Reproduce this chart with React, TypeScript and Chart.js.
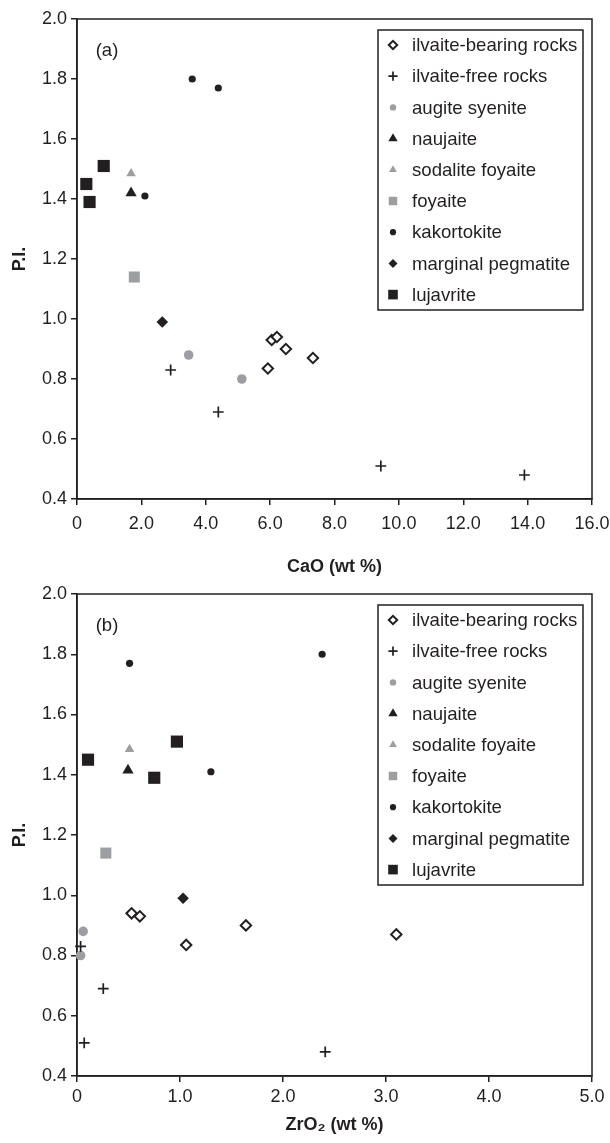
import React, { useEffect, useRef } from 'react';
import { Chart, registerables } from 'chart.js';
import { drawPoint } from 'chart.js/helpers';

Chart.register(...registerables);

type Pt = [number, number];

const SERIES_NAMES = [
  'ilvaite-bearing rocks',
  'ilvaite-free rocks',
  'augite syenite',
  'naujaite',
  'sodalite foyaite',
  'foyaite',
  'kakortokite',
  'marginal pegmatite',
  'lujavrite',
];

// Panel (a): CaO (wt %) vs P.I.
const caoIlvaiteBearing: Pt[] = [[6.05, 0.93], [6.21, 0.94], [6.49, 0.9], [5.93, 0.835], [7.33, 0.87]];
const caoIlvaiteFree: Pt[] = [[2.91, 0.83], [4.39, 0.69], [9.44, 0.51], [13.9, 0.48]];
const caoAugiteSyenite: Pt[] = [[3.47, 0.88], [5.12, 0.8]];
const caoNaujaite: Pt[] = [[1.68, 1.42]];
const caoSodaliteFoyaite: Pt[] = [[1.68, 1.485]];
const caoFoyaite: Pt[] = [[1.78, 1.14]];
const caoKakortokite: Pt[] = [[3.58, 1.8], [4.39, 1.77], [2.11, 1.41]];
const caoMarginalPegmatite: Pt[] = [[2.65, 0.99]];
const caoLujavrite: Pt[] = [[0.29, 1.45], [0.39, 1.39], [0.83, 1.51]];

// Panel (b): ZrO2 (wt %) vs P.I.
const zrIlvaiteBearing: Pt[] = [[0.53, 0.94], [0.61, 0.93], [1.06, 0.835], [1.64, 0.9], [3.1, 0.87]];
const zrIlvaiteFree: Pt[] = [[0.035, 0.83], [0.255, 0.69], [0.07, 0.51], [2.41, 0.48]];
const zrAugiteSyenite: Pt[] = [[0.06, 0.88], [0.035, 0.8]];
const zrNaujaite: Pt[] = [[0.495, 1.415]];
const zrSodaliteFoyaite: Pt[] = [[0.51, 1.485]];
const zrFoyaite: Pt[] = [[0.28, 1.14]];
const zrKakortokite: Pt[] = [[0.51, 1.77], [2.38, 1.8], [1.3, 1.41]];
const zrMarginalPegmatite: Pt[] = [[1.03, 0.99]];
const zrLujavrite: Pt[] = [[0.107, 1.45], [0.75, 1.39], [0.97, 1.51]];

const caoTickValues = [0, 2, 4, 6, 8, 10, 12, 14, 16];
const caoTickLabels = ['0', '2.0', '4.0', '6.0', '8.0', '10.0', '12.0', '14.0', '16.0'];
const zrTickValues = [0, 1, 2, 3, 4, 5];
const zrTickLabels = ['0', '1.0', '2.0', '3.0', '4.0', '5.0'];
const piTickValues = [0.4, 0.6, 0.8, 1.0, 1.2, 1.4, 1.6, 1.8, 2.0];
const piTickLabels = ['0.4', '0.6', '0.8', '1.0', '1.2', '1.4', '1.6', '1.8', '2.0'];

const INK = '#231f20';
const GREY = '#9c9ea1';
const FONT = '"Liberation Sans", Arial, Helvetica, sans-serif';

const STYLES = [
  { pointStyle: 'rectRot', radius: 5.2, legendRadius: 4.2, bg: '#ffffff', border: INK, bw: 2 },
  { pointStyle: 'cross', radius: 5.4, legendRadius: 4.6, bg: INK, border: INK, bw: 1.7 },
  { pointStyle: 'circle', radius: 4.8, legendRadius: 3.2, bg: GREY, border: GREY, bw: 0 },
  { pointStyle: 'triangle', radius: 6.5, legendRadius: 5.4, bg: INK, border: INK, bw: 0 },
  { pointStyle: 'triangle', radius: 5.5, legendRadius: 4.5, bg: GREY, border: GREY, bw: 0 },
  { pointStyle: 'rect', radius: 7.8, legendRadius: 6, bg: GREY, border: GREY, bw: 0 },
  { pointStyle: 'circle', radius: 3.6, legendRadius: 3.1, bg: INK, border: INK, bw: 0 },
  { pointStyle: 'rectRot', radius: 5.8, legendRadius: 4.5, bg: INK, border: INK, bw: 0 },
  { pointStyle: 'rect', radius: 8.6, legendRadius: 6.8, bg: INK, border: INK, bw: 0 },
];

function labelFor(values: number[], labels: string[]) {
  return (v: number) => {
    const i = values.findIndex((t) => Math.abs(t - v) < 1e-9);
    return i >= 0 ? labels[i] : '';
  };
}

function makeFramePlugin(panel: string) {
  return {
    id: 'frameLegend',
    beforeDatasetsDraw(chart: any) {
      const { ctx, chartArea: a } = chart;
      ctx.save();
      ctx.strokeStyle = INK;
      ctx.lineWidth = 1.5;
      ctx.strokeRect(a.left, a.top, a.right - a.left, a.bottom - a.top);
      ctx.fillStyle = INK;
      ctx.font = `18.5px ${FONT}`;
      ctx.textBaseline = 'middle';
      ctx.textAlign = 'center';
      ctx.fillText(panel, a.left + 30, a.top + 32);
      ctx.restore();
    },
    afterDatasetsDraw(chart: any) {
      const { ctx, chartArea: a } = chart;
      const lx = a.left + 301;
      const ly = a.top + 11;
      const lw = 205;
      const lh = 280;
      ctx.save();
      ctx.fillStyle = '#ffffff';
      ctx.fillRect(lx, ly, lw, lh);
      ctx.strokeStyle = INK;
      ctx.lineWidth = 1.5;
      ctx.strokeRect(lx, ly, lw, lh);
      chart.data.datasets.forEach((ds: any, i: number) => {
        const st = STYLES[i];
        const cy = ly + 15 + i * 31.2;
        ctx.save();
        ctx.fillStyle = st.bg;
        ctx.strokeStyle = st.border;
        ctx.lineWidth = st.bw;
        drawPoint(ctx, { pointStyle: st.pointStyle, radius: st.legendRadius, rotation: 0, borderWidth: st.bw } as any, lx + 15, cy);
        ctx.restore();
        ctx.fillStyle = INK;
        ctx.font = `18.6px ${FONT}`;
        ctx.textBaseline = 'middle';
        ctx.textAlign = 'left';
        ctx.fillText(ds.label, lx + 34, cy + 1);
      });
      ctx.restore();
    },
  };
}

function makeConfig(opts: {
  series: Pt[][];
  xMax: number;
  xTicks: number[];
  xLabels: string[];
  xTitle: string;
  padTop: number;
  xAxisHeight: number;
  xTitlePadBottom: number;
  xTickPad: number;
  panel: string;
}): any {
  const datasets = opts.series.map((pts, i) => {
    const st = STYLES[i];
    return {
      label: SERIES_NAMES[i],
      data: pts.map(([x, y]) => ({ x, y })),
      pointStyle: st.pointStyle,
      pointRadius: st.radius,
      pointHoverRadius: st.radius,
      pointBackgroundColor: st.bg,
      pointBorderColor: st.border,
      pointBorderWidth: st.bw,
      backgroundColor: st.bg,
      borderColor: st.border,
      showLine: false,
      clip: false,
    };
  });
  return {
    type: 'scatter',
    data: { datasets },
    options: {
      animation: false,
      responsive: false,
      maintainAspectRatio: false,
      events: [],
      layout: { padding: { top: opts.padTop, right: 18, bottom: 0, left: 0 } },
      plugins: { legend: { display: false }, tooltip: { enabled: false } },
      scales: {
        x: {
          type: 'linear',
          min: 0,
          max: opts.xMax,
          afterBuildTicks: (s: any) => {
            s.ticks = opts.xTicks.map((v) => ({ value: v }));
          },
          afterFit: (s: any) => {
            s.height = opts.xAxisHeight;
            s.paddingLeft = 0;
            s.paddingRight = 0;
          },
          ticks: {
            callback: labelFor(opts.xTicks, opts.xLabels),
            font: { family: FONT, size: 18 },
            color: INK,
            padding: opts.xTickPad,
            maxRotation: 0,
            autoSkip: false,
          },
          grid: { drawOnChartArea: false, drawTicks: true, tickLength: 6, color: INK, lineWidth: 1.5 },
          border: { display: true, color: INK, width: 1.5 },
          title: {
            display: true,
            text: opts.xTitle,
            color: INK,
            font: { family: FONT, size: 18, weight: 'bold' },
            padding: { top: 0, bottom: opts.xTitlePadBottom },
          },
        },
        y: {
          type: 'linear',
          min: 0.4,
          max: 2.0,
          afterBuildTicks: (s: any) => {
            s.ticks = piTickValues.map((v) => ({ value: v }));
          },
          afterFit: (s: any) => {
            s.width = 77;
            s.paddingTop = 0;
            s.paddingBottom = 0;
          },
          ticks: {
            callback: labelFor(piTickValues, piTickLabels),
            font: { family: FONT, size: 18 },
            color: INK,
            padding: 4,
            autoSkip: false,
          },
          grid: { drawOnChartArea: false, drawTicks: true, tickLength: 6, color: INK, lineWidth: 1.5 },
          border: { display: true, color: INK, width: 1.5 },
          title: {
            display: true,
            text: 'P.I.',
            color: INK,
            font: { family: FONT, size: 18, weight: 'bold' },
            padding: { top: 9, bottom: 0 },
          },
        },
      },
    },
    plugins: [makeFramePlugin(opts.panel)],
  };
}

function ScatterPanel({ config, width, height }: { config: any; width: number; height: number }) {
  const ref = useRef<HTMLCanvasElement>(null);
  useEffect(() => {
    const chart = new Chart(ref.current as HTMLCanvasElement, config);
    return () => chart.destroy();
  }, [config]);
  return <canvas ref={ref} width={width} height={height} style={{ display: 'block', width, height }} />;
}

const configA = makeConfig({
  series: [caoIlvaiteBearing, caoIlvaiteFree, caoAugiteSyenite, caoNaujaite, caoSodaliteFoyaite, caoFoyaite, caoKakortokite, caoMarginalPegmatite, caoLujavrite],
  xMax: 16,
  xTicks: caoTickValues,
  xLabels: caoTickLabels,
  xTitle: 'CaO (wt %)',
  padTop: 19,
  xAxisHeight: 81,
  xTitlePadBottom: 2,
  xTickPad: 8,
  panel: '(a)',
});

const configB = makeConfig({
  series: [zrIlvaiteBearing, zrIlvaiteFree, zrAugiteSyenite, zrNaujaite, zrSodaliteFoyaite, zrFoyaite, zrKakortokite, zrMarginalPegmatite, zrLujavrite],
  xMax: 5,
  xTicks: zrTickValues,
  xLabels: zrTickLabels,
  xTitle: 'ZrO\u2082 (wt %)',
  padTop: 14,
  xAxisHeight: 67,
  xTitlePadBottom: 7,
  xTickPad: 4,
  panel: '(b)',
});

export default function App() {
  useEffect(() => {
    document.body.style.margin = '0';
    document.body.style.background = '#ffffff';
  }, []);
  return (
    <div style={{ width: 610, background: '#ffffff' }}>
      <ScatterPanel config={configA} width={610} height={580} />
      <ScatterPanel config={configB} width={610} height={563} />
    </div>
  );
}
